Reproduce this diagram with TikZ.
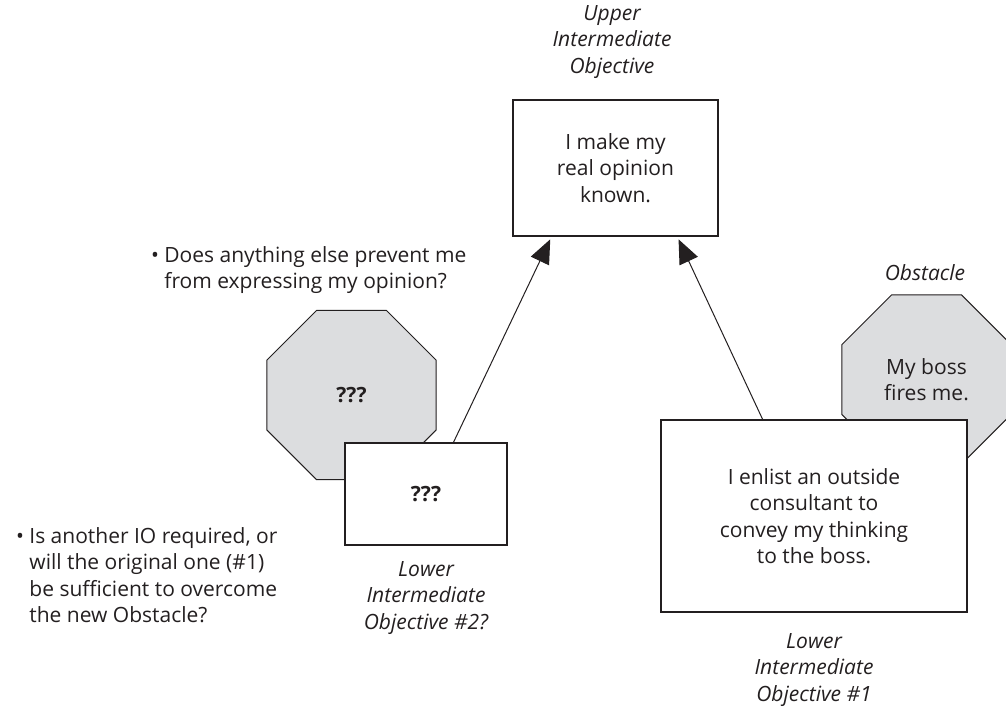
\documentclass[tikz,border=0pt]{standalone}
\usepackage{fontspec}
\setmainfont{Open Sans}
\usepackage{tikz}
\usetikzlibrary{shapes.geometric,arrows.meta}
\definecolor{stopgray}{RGB}{220,221,223}
\definecolor{ink}{RGB}{35,31,32}

\begin{document}
\begin{tikzpicture}[x=0.5pt,y=-0.5pt,
		every node/.style={font=\fontsize{10.5}{13.25}\selectfont,text=ink,align=center},
		io/.style={rectangle,draw=ink,fill=white,line width=0.6pt,inner sep=0pt},
		stopsign/.style={regular polygon,regular polygon sides=8,draw=ink,fill=stopgray,
			line width=0.5pt,minimum size=91.5pt,inner sep=0pt},
		tag/.style={font=\fontsize{10.5}{13.25}\selectfont\itshape},
		link/.style={-{Triangle[length=12pt,width=10pt]},draw=ink,line width=0.5pt,shorten >=1.5pt}]
		\clip (0,0) rectangle (1006,708);

		% obstacles sit behind the boxes
		\node [stopsign] (obs2) at (351.5,395) {\textbf{???}};
		\node [stopsign] (obs1) at (926.5,379.5) {My boss\\fires me.};
		\node [tag] (obs1tag) at (925,273) {Obstacle};

		% intermediate objectives
		\node [io,minimum width=102.5pt,minimum height=68pt] (uio) at (615.5,168) {I make my\\real opinion\\known.};
		\node [io,minimum width=81pt,minimum height=51pt] (lio2) at (426,494) {\textbf{???}};
		\node [io,minimum width=153pt,minimum height=96pt] (lio1) at (814,516) {I enlist an outside\\consultant to\\convey my thinking\\to the boss.};

		\node [tag] (uiotag) at (612,42) {Upper\\Intermediate\\Objective};
		\node [tag] (lio2tag) at (426,598) {Lower\\Intermediate\\Objective \#2?};
		\node [tag] (lio1tag) at (814,670) {Lower\\Intermediate\\Objective \#1};

		% questions
		\node [anchor=west,align=left] (q1) at (144,270) {\textbullet\ Does anything else prevent me\\\phantom{\textbullet\ }from expressing my opinion?};
		\node [anchor=west,align=left] (q2) at (9,575) {\textbullet\ Is another IO required, or\\\phantom{\textbullet\ }will the original one (\#1)\\\phantom{\textbullet\ }be sufficient to overcome\\\phantom{\textbullet\ }the new Obstacle?};

		\draw [link] (lio2.62) to (uio.227);
		\draw [link] (lio1.118) to (uio.312);
\end{tikzpicture}
\end{document}
